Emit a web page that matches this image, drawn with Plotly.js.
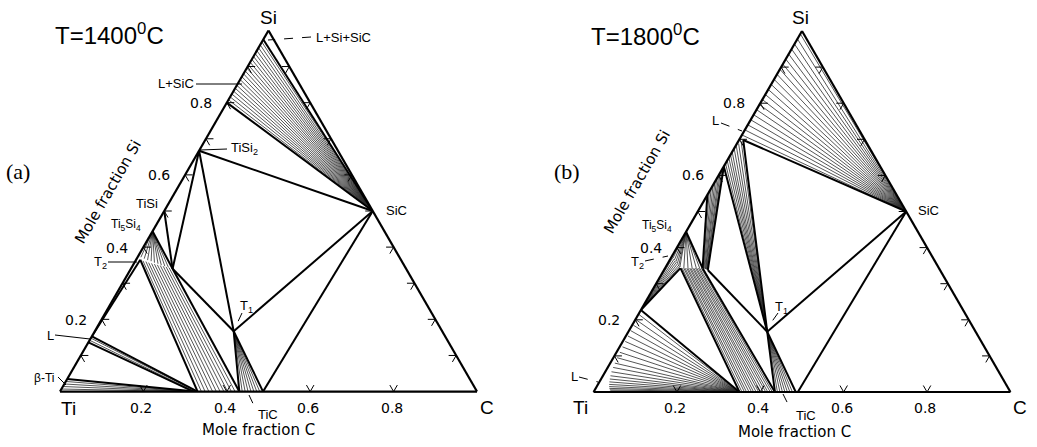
<!DOCTYPE html>
<html><head><meta charset="utf-8">
<script src="https://cdn.plot.ly/plotly-3.0.1.min.js"></script>
<style>html,body{margin:0;padding:0;background:#fff}#chart{width:1037px;height:447px}</style>
</head><body><div id="chart"></div>
<script>
// ===== DATA: compositions as [Si, C] mole fractions (Ti = 1 - Si - C) =====

// ---------- (a) T = 1400 C ----------
const bounds1400 = [
  [[0.800,0.000],[0.500,0.500]],
  [[0.975,0.000],[0.500,0.500]],
  [[0.667,0.000],[0.500,0.500]],
  [[0.667,0.000],[0.167,0.333]],
  [[0.667,0.000],[0.340,0.100]],
  [[0.500,0.000],[0.340,0.100]],
  [[0.444,0.000],[0.340,0.100]],
  [[0.340,0.100],[0.167,0.333]],
  [[0.167,0.333],[0.500,0.500]],
  [[0.500,0.500],[0.000,0.487]],
  [[0.167,0.333],[0.000,0.430]],
  [[0.167,0.333],[0.000,0.487]],
  [[0.340,0.100],[0.000,0.430]],
  [[0.365,0.010],[0.000,0.330]],
  [[0.365,0.010],[0.153,0.000]],
  [[0.153,0.000],[0.000,0.330]],
  [[0.136,0.000],[0.000,0.320]],
  [[0.035,0.000],[0.000,0.325]]
];
const SiC = [0.500,0.500];
const T1 = [0.167,0.333];
const Ti5Si4 = [0.444,0.000];
// L + SiC tie lines: Si of liquid on Ti-Si edge
const tieLSiC1400 = [0.808,0.816,0.824,0.832,0.840,0.848,0.856,0.864,0.872,0.880,0.888,0.896,0.904,0.912,0.920,0.928,0.936,0.944,0.952,0.960,0.968];
// Ti5Si4 + T2 tie lines: T2 ends
const tieTi5Si4T2_1400 = [[0.372,0.008],[0.368,0.018],[0.364,0.028],[0.361,0.038],[0.357,0.048],[0.354,0.058],[0.350,0.068],[0.347,0.078],[0.344,0.088]];
// T2 + TiC band: T2 ends and TiC ends (C)
const bandT2_1400 = [[0.362,0.018],[0.360,0.026],[0.357,0.034],[0.355,0.042],[0.353,0.050],[0.351,0.058],[0.349,0.066],[0.347,0.074],[0.345,0.082],[0.343,0.090]];
const bandTiC_1400 = [0.339,0.348,0.357,0.366,0.375,0.384,0.393,0.402,0.411,0.420];
// T1 + TiC tie lines: TiC ends (C)
const tieT1TiC1400 = [0.437,0.444,0.451,0.458,0.465,0.472,0.479];
// L + TiC thin band
const tieL_1400 = [0.148,0.142];
const tieLTiC_1400 = [0.327,0.323];
// beta-Ti + TiC
const tieBTi_1400 = [0.007,0.014,0.021,0.028];
const tieBTiTiC_1400 = [0.305,0.310,0.315,0.320];

// ---------- (b) T = 1800 C ----------
const bounds1800 = [
  [[0.698,0.010],[0.500,0.500]],
  [[0.698,0.010],[0.167,0.333]],
  [[0.625,0.000],[0.167,0.333]],
  [[0.625,0.000],[0.338,0.105]],
  [[0.546,0.000],[0.343,0.090]],
  [[0.444,0.000],[0.343,0.090]],
  [[0.338,0.105],[0.167,0.333]],
  [[0.167,0.333],[0.500,0.500]],
  [[0.500,0.500],[0.000,0.490]],
  [[0.167,0.333],[0.000,0.435]],
  [[0.167,0.333],[0.000,0.485]],
  [[0.343,0.090],[0.000,0.435]],
  [[0.343,0.037],[0.000,0.350]],
  [[0.227,0.000],[0.343,0.037]],
  [[0.227,0.000],[0.000,0.350]]
];
const L23 = [0.227,0.000];
const TiCpoor1800 = [0.000,0.350];
const tieLSiC1800 = [0.712,0.726,0.740,0.754,0.768,0.782,0.796,0.810,0.824,0.838,0.852,0.866,0.880,0.894,0.908,0.922,0.936,0.950,0.964,0.978,0.992];
const tieLT1_1800 = [[0.633,0.000],[0.641,0.000],[0.649,0.000],[0.657,0.000],[0.665,0.000],[0.673,0.001],[0.681,0.002],[0.688,0.004],[0.694,0.007]];
const band2L_1800 = [0.555,0.564,0.573,0.582,0.591,0.600,0.608,0.616];
const band2T2_1800 = [[0.3425,0.092],[0.342,0.094],[0.3415,0.096],[0.341,0.098],[0.3405,0.099],[0.340,0.101],[0.3395,0.102],[0.339,0.104]];
const tieTi5Si4T2_1800 = [[0.371,0.005],[0.366,0.011],[0.361,0.017],[0.356,0.023],[0.351,0.029],[0.346,0.034],[0.343,0.045],[0.343,0.055],[0.343,0.065],[0.343,0.075],[0.343,0.083]];
const tieLT2_1800 = [[0.372,0.004],[0.368,0.009],[0.364,0.014],[0.360,0.019],[0.356,0.024],[0.352,0.029],[0.348,0.033]];
const bandT2_1800 = [0.041,0.045,0.048,0.052,0.055,0.059,0.062,0.066,0.069,0.073,0.076,0.080,0.083,0.087];
const bandTiC_1800 = [0.356,0.362,0.367,0.373,0.379,0.384,0.390,0.396,0.401,0.407,0.413,0.418,0.424,0.429];
const tieT1TiC1800 = [0.441,0.447,0.453,0.459,0.465,0.471,0.477];
const tieLTiC1800 = [[0.215,0.001],[0.200,0.002],[0.185,0.003],[0.170,0.004],[0.155,0.005],[0.140,0.006],[0.125,0.007],[0.110,0.008],[0.095,0.009],[0.080,0.011],[0.068,0.013],[0.056,0.015],[0.045,0.018],[0.036,0.021],[0.028,0.024],[0.021,0.027],[0.015,0.030],[0.010,0.033],[0.006,0.036],[0.003,0.039],[0.001,0.042]];

// ---------- axis ticks ----------
const edgeTicks = [0.1,0.2,0.3,0.4,0.5,0.6,0.7,0.8,0.9];
const bottomTicks = [0.2,0.4,0.6,0.8];
const labelTicks = [0.2,0.4,0.6,0.8];
const labelText = ['0.2','0.4','0.6','0.8'];

// ===== BUILD =====
const onEdge = v => [v, 0];
const onTiC = c => [0, c];
const fan = (anchor, ends) => ends.map(e => [anchor, e]);
const band = (A, B) => A.map((p, i) => [p, B[i]]);

function linesTrace(polylines, sub, width, color) {
  const t = {type:'scatterternary', subplot:sub, mode:'lines', a:[], b:[], c:[],
    line:{color:color, width:width}, hoverinfo:'skip', showlegend:false};
  polylines.forEach(pl => {
    pl.forEach(p => { t.a.push(p[0]); t.b.push(1 - p[0] - p[1]); t.c.push(p[1]); });
    t.a.push(null); t.b.push(null); t.c.push(null);
  });
  return t;
}

const D = 0.018; // chevron arm length
function chevrons() {
  const out = [];
  edgeTicks.forEach(v => {
    out.push([[v - D, D], [v, 0], [v, D]]);                 // Ti-Si edge
    out.push([[v, 1 - v - D], [v, 1 - v], [v - D, 1 - v]]); // Si-C edge
  });
  bottomTicks.forEach(v => out.push([[D, v], [0, v], [D, v - D]])); // Ti-C edge
  return out;
}

const HATCH = '#2a2a2a', HW = 0.8;
const hatch1400 = [].concat(
  fan(SiC, tieLSiC1400.map(onEdge)),
  fan(Ti5Si4, tieTi5Si4T2_1400),
  band(bandT2_1400, bandTiC_1400.map(onTiC)),
  fan(T1, tieT1TiC1400.map(onTiC)),
  band(tieL_1400.map(onEdge), tieLTiC_1400.map(onTiC)),
  band(tieBTi_1400.map(onEdge), tieBTiTiC_1400.map(onTiC))
);
const hatch1800 = [].concat(
  fan(SiC, tieLSiC1800.map(onEdge)),
  fan(T1, tieLT1_1800),
  band(band2L_1800.map(onEdge), band2T2_1800),
  fan(Ti5Si4, tieTi5Si4T2_1800),
  fan(L23, tieLT2_1800),
  band(bandT2_1800.map(c => [0.343, c]), bandTiC_1800.map(onTiC)),
  fan(T1, tieT1TiC1800.map(onTiC)),
  fan(TiCpoor1800, tieLTiC1800)
);

const traces = [
  linesTrace(hatch1400, 'ternary', HW, HATCH),
  linesTrace(bounds1400, 'ternary', 2, '#000'),
  linesTrace(chevrons(), 'ternary', 1, '#000'),
  linesTrace(hatch1800, 'ternary2', HW, HATCH),
  linesTrace(bounds1800, 'ternary2', 2, '#000'),
  linesTrace(chevrons(), 'ternary2', 1, '#000')
];

// ===== LAYOUT =====
const W = 1037, H = 447;
const axisStyle = {showline:true, linecolor:'#000', linewidth:2.2, showgrid:false, ticks:'', showticklabels:false, title:{text:''}, min:0};
function tern(x0, x1, yTop, yBot) {
  return {domain:{x:[x0 / W, x1 / W], y:[1 - yBot / H, 1 - yTop / H]}, sum:1, bgcolor:'rgba(0,0,0,0)',
    aaxis:axisStyle, baxis:axisStyle, caxis:axisStyle};
}
const SANS = 'Liberation Sans, Arial, sans-serif';
const DEJA = 'DejaVu Sans, sans-serif';
const ann = [];
function txt(t, x, y, size, family, angle) {
  ann.push({text:t, x:x / W, y:1 - y / H, xref:'paper', yref:'paper', xanchor:'center', yanchor:'middle',
    showarrow:false, textangle:angle || 0, font:{family:family || SANS, size:size, color:'#000'}});
}
const shapes = [];
function lead(x0, y0, x1, y1, dash) {
  shapes.push({type:'line', xref:'paper', yref:'paper', x0:x0 / W, y0:1 - y0 / H, x1:x1 / W, y1:1 - y1 / H,
    line:{color:'#000', width:1, dash:dash ? 'dash' : 'solid'}});
}
// tick labels placed from the tick values along the triangle edges
function tickLabels(xTi, yBase, side) {
  const h = side * Math.sqrt(3) / 2;
  labelTicks.forEach((v, i) => {
    txt(labelText[i], xTi + side * v / 2 - 26, yBase - h * v, 14, DEJA);   // Si axis (left edge)
    txt(labelText[i], xTi + side * v - 2, yBase + 15.5, 14, DEJA);         // C axis (bottom edge)
  });
}
// panel (a)
tickLabels(60, 392, 417);
txt('T=1400<sup>0</sup>C', 109, 34, 24);
txt('(a)', 18, 171, 22, 'Liberation Serif, Times New Roman, serif');
txt('Si', 268, 18, 19); txt('Ti', 68, 408, 19); txt('C', 487, 407, 19);
txt('Mole fraction Si', 108, 192, 15, DEJA, -60);
txt('Mole fraction C', 258, 430, 15, DEJA);
txt('L+Si+SiC', 343, 37, 13); lead(311, 37, 268, 40, true);
txt('L+SiC', 176, 84, 13); lead(196, 84, 242, 84);
txt('TiSi<sub>2</sub>', 244, 149, 13); lead(227, 149, 200, 150);
txt('TiSi', 147, 203, 13);
txt('Ti<sub>5</sub>Si<sub>4</sub>', 126, 225, 12);
txt('T<sub>2</sub>', 100, 262, 13); lead(108, 262, 137, 262);
txt('L', 50, 335, 13); lead(55, 335, 90, 339);
txt('β-Ti', 44, 378, 12); lead(58, 377, 66, 385);
txt('T<sub>1</sub>', 246, 306, 13); lead(242, 313, 235, 328, true);
txt('TiC', 268, 414, 13); lead(249, 395, 256, 410, true);
txt('SiC', 396, 210, 13);
// panel (b)
tickLabels(593.6, 392, 416.8);
txt('T=1800<sup>0</sup>C', 645, 35, 24);
txt('(b)', 567, 171, 22, 'Liberation Serif, Times New Roman, serif');
txt('Si', 800, 18, 19); txt('Ti', 580, 407, 19); txt('C', 1020, 407, 19);
txt('Mole fraction Si', 637, 182, 15, DEJA, -60);
txt('Mole fraction C', 794, 432, 15, DEJA);
txt('L', 715, 121, 13); lead(721, 123, 742, 131, true);
txt('Ti<sub>5</sub>Si<sub>4</sub>', 657, 226, 12);
txt('T<sub>2</sub>', 637, 262, 13); lead(645, 261, 668, 256, true);
txt('L', 574, 376, 13); lead(579, 377, 598, 382, true);
txt('T<sub>1</sub>', 781, 307, 13); lead(778, 313, 768, 327, true);
txt('TiC', 806, 415, 13); lead(783, 394, 791, 410, true);
txt('SiC', 928, 210, 13);

const layout = {
  width:W, height:H, margin:{l:0, r:0, t:0, b:0}, paper_bgcolor:'#fff', showlegend:false,
  ternary: tern(60, 477, 30, 392),
  ternary2: tern(593, 1011, 31, 392),
  annotations: ann, shapes: shapes
};
Plotly.newPlot('chart', traces, layout, {staticPlot:true, displayModeBar:false});
</script>
</body></html>
